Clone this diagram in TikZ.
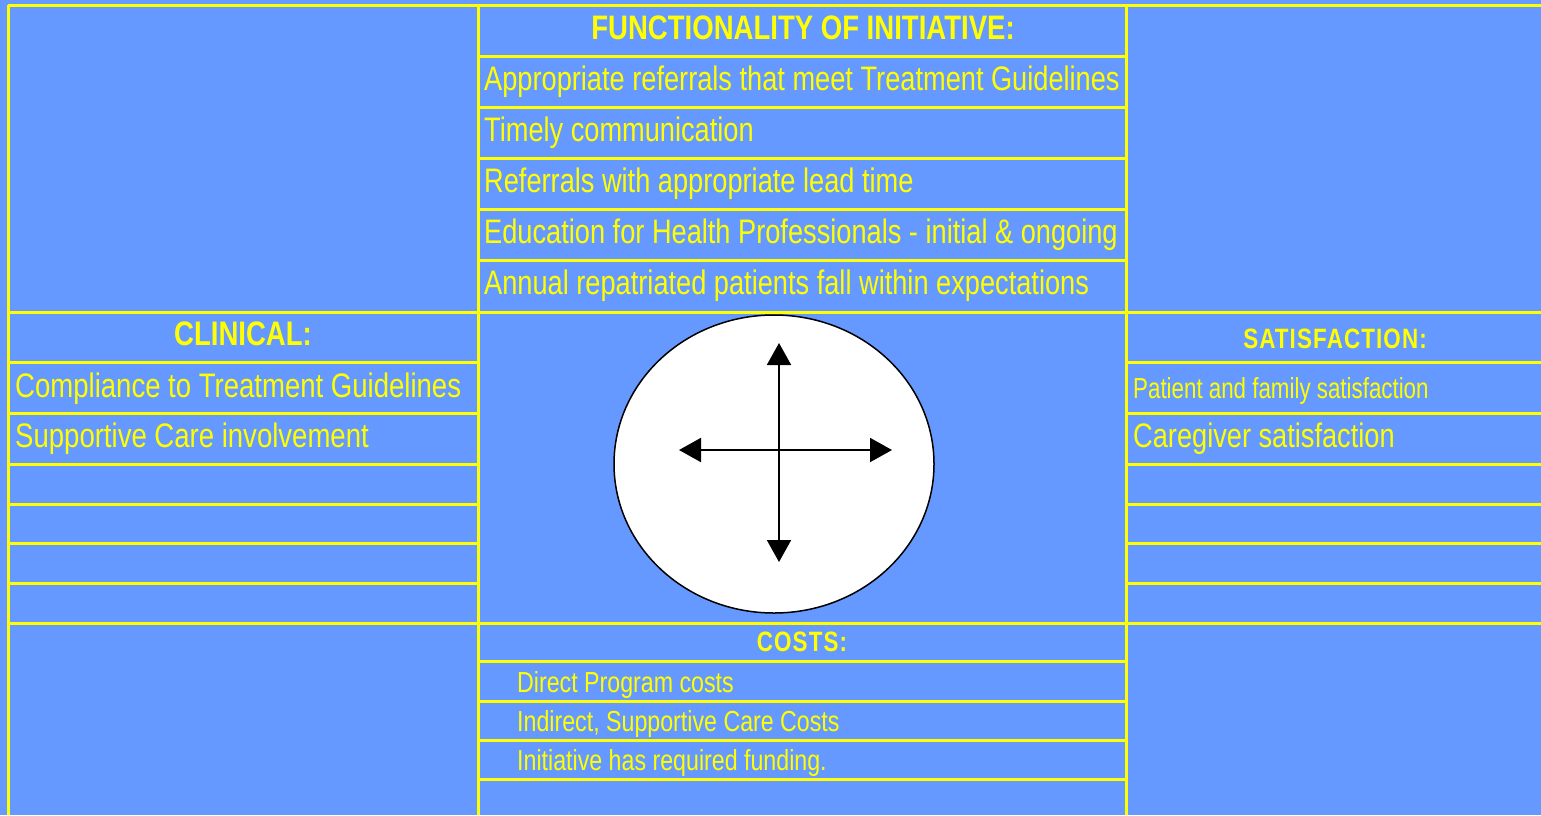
\documentclass[tikz,border=0pt]{standalone}
\usepackage{fontspec}
\setmainfont{Liberation Sans}[FakeStretch=0.81]
\newfontfamily\centrenarrow{Liberation Sans}[FakeStretch=0.80]
\newfontfamily\smallnarrow{Liberation Sans}[FakeStretch=0.77]
\newfontfamily\costnarrow{Liberation Sans}[FakeStretch=0.80]
\newfontfamily\headnarrow{Liberation Sans}[FakeStretch=0.80,LetterSpace=4]
\usetikzlibrary{arrows.meta,shapes.geometric}
\definecolor{bgblue}{RGB}{102,153,255}
\definecolor{grid}{RGB}{255,255,0}
\begin{document}
\begin{tikzpicture}[x=1pt,y=-1pt,
  gridline/.style={draw=grid,line width=3pt},
  bigtxt/.style={text=grid,inner sep=0pt,anchor=base west,font=\fontsize{34}{40}\selectfont},
  centretxt/.style={text=grid,inner sep=0pt,anchor=base west,font=\fontsize{34}{40}\centrenarrow},
  headtxt/.style={text=grid,inner sep=0pt,anchor=base,font=\fontsize{34}{40}\selectfont\bfseries},
  smalltxt/.style={text=grid,inner sep=0pt,anchor=base west,font=\fontsize{29}{34}\smallnarrow},
  costtxt/.style={text=grid,inner sep=0pt,anchor=base west,font=\fontsize{29}{34}\costnarrow},
  smallhead/.style={text=grid,inner sep=0pt,anchor=base,font=\fontsize{28}{34}\headnarrow\bfseries},
  twoway/.style={-{Triangle[length=22pt,width=24pt]},line width=2pt,black}]
\useasboundingbox (0,0) rectangle (1541,815);
\fill[bgblue] (0,0) rectangle (1541,815);
% outer frame and columns
\draw[gridline] (8,5) -- (1541,5);
\draw[gridline] (8,5) -- (8,815);
\draw[gridline] (478,5) -- (478,815);
\draw[gridline] (1126,5) -- (1126,815);
% centre upper rows
\foreach \y in {56,107,158,209,260} \draw[gridline] (478,\y) -- (1126,\y);
% full-width lines
\draw[gridline] (8,312) -- (1541,312);
\draw[gridline] (8,623) -- (1541,623);
% side rows
\foreach \y in {362,413,464,504,543,583} {
  \draw[gridline] (8,\y) -- (478,\y);
  \draw[gridline] (1126,\y) -- (1541,\y);
}
% centre lower rows
\foreach \y in {661,701,740,779} \draw[gridline] (478,\y) -- (1126,\y);

% functionality
\node[headtxt] (fhead) at (803,39) {FUNCTIONALITY OF INITIATIVE:};
\node[centretxt] (f1) at (484,90) {Appropriate referrals that meet Treatment Guidelines};
\node[centretxt] (f2) at (484,141) {Timely communication};
\node[centretxt] (f3) at (484,192) {Referrals with appropriate lead time};
\node[centretxt] (f4) at (484,243) {Education for Health Professionals - initial \& ongoing};
\node[centretxt] (f5) at (484,294) {Annual repatriated patients fall within expectations};

% clinical
\node[headtxt] (chead) at (243,345) {CLINICAL:};
\node[bigtxt] (c1) at (15,397) {Compliance to Treatment Guidelines};
\node[bigtxt] (c2) at (15,447) {Supportive Care involvement};

% satisfaction
\node[smallhead] (shead) at (1335,348) {SATISFACTION:};
\node[smalltxt] (s1) at (1133,398) {Patient and family satisfaction};
\node[centretxt] (s2) at (1133,447) {Caregiver satisfaction};

% costs
\node[smallhead] (khead) at (802,651) {COSTS:};
\node[costtxt] (k1) at (517,692) {Direct Program costs};
\node[costtxt] (k2) at (517,731) {Indirect, Supportive Care Costs};
\node[costtxt] (k3) at (517,770) {Initiative has required funding.};

% central compass
\node[ellipse,draw=black,fill=white,line width=1.5pt,minimum width=320pt,minimum height=298pt,inner sep=0pt] (hub) at (774,464) {};
\coordinate (up) at (779,343);
\coordinate (down) at (779,562);
\coordinate (left) at (679,450);
\coordinate (right) at (892,450);
\coordinate (mid) at (779,450);
\draw[twoway] (mid) -- (up);
\draw[twoway] (mid) -- (down);
\draw[twoway] (mid) -- (left);
\draw[twoway] (mid) -- (right);
\end{tikzpicture}
\end{document}
